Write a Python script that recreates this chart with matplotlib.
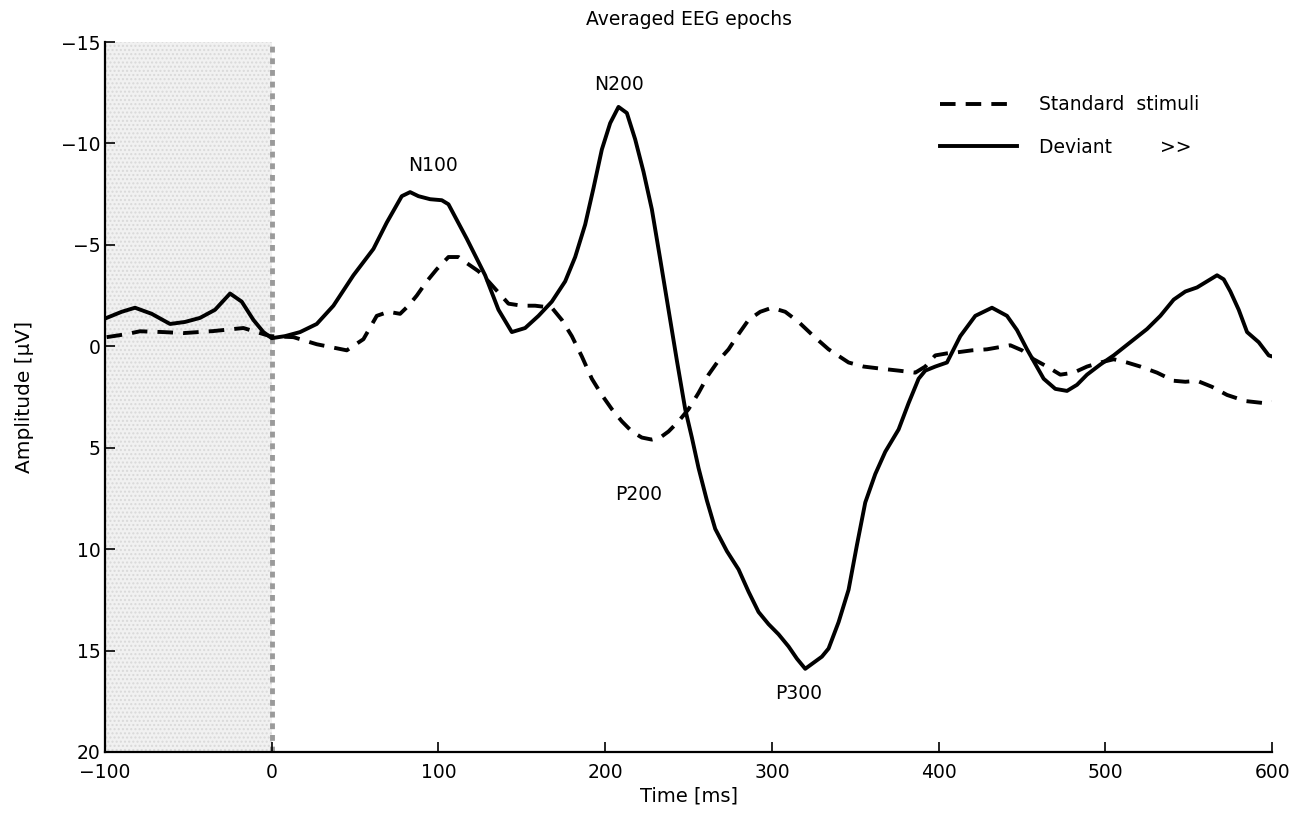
import matplotlib

matplotlib.use("Agg")
import matplotlib.pyplot as plt

plt.rcParams["font.family"] = ["DejaVu Sans"]

# Deviant (solid) trace, time in ms and amplitude in uV
deviant_t = [-99, -90, -82, -72, -61, -52, -43, -34, -25, -18, -11, -5, 0, 8, 17, 27, 37, 49, 61, 69, 78, 83,
             88, 95, 102, 106, 117, 128, 136, 144, 152, 160, 168, 176, 182, 188, 193, 198, 203, 208, 213, 218,
             223, 228, 233, 238, 243, 248, 252, 256, 261, 266, 273, 280, 286, 292, 298, 304, 310, 315, 320,
             325, 330, 334, 340, 346, 351, 356, 362, 368, 376, 382, 388, 392, 398, 405, 413, 422, 432, 441,
             447, 453, 463, 470, 477, 483, 489, 497, 505, 515, 525, 533, 541, 548, 555, 561, 567, 571, 575,
             580, 585, 592, 598, 600]
deviant_v = [-1.4, -1.7, -1.9, -1.6, -1.1, -1.2, -1.4, -1.8, -2.6, -2.2, -1.3, -0.7, -0.4, -0.5, -0.7, -1.1,
             -2.0, -3.5, -4.8, -6.1, -7.4, -7.6, -7.4, -7.25, -7.2, -7.0, -5.3, -3.5, -1.8, -0.7, -0.9, -1.5,
             -2.2, -3.2, -4.4, -6.0, -7.8, -9.7, -11.0, -11.8, -11.5, -10.2, -8.6, -6.75, -4.3, -1.8, 0.7, 3.1,
             4.5, 6.0, 7.6, 9.0, 10.1, 11.0, 12.1, 13.1, 13.7, 14.2, 14.8, 15.4, 15.9, 15.6, 15.3, 14.9, 13.6,
             12.0, 9.8, 7.7, 6.3, 5.2, 4.1, 2.8, 1.6, 1.2, 1.0, 0.8, -0.5, -1.5, -1.9, -1.5, -0.8, 0.15, 1.6,
             2.1, 2.2, 1.9, 1.4, 0.9, 0.45, -0.2, -0.85, -1.5, -2.3, -2.7, -2.9, -3.2, -3.5, -3.3, -2.7, -1.8,
             -0.7, -0.2, 0.45, 0.5]

# Standard stimuli (dashed) trace
standard_t = [-99, -87, -79, -65, -53, -35, -17, -1, 13, 27, 45, 55, 63, 70, 77, 82, 87, 93, 99, 106, 112,
              117, 124, 130, 142, 150, 158, 168, 174, 180, 186, 192, 198, 204, 210, 216, 222, 228, 233, 238,
              244, 250, 256, 262, 268, 274, 280, 286, 293, 300, 308, 316, 325, 334, 346, 355, 365, 376, 386,
              392, 398, 405, 411, 420, 429, 443, 450, 457, 465, 473, 481, 489, 497, 505, 513, 521, 531, 541,
              548, 555, 564, 573, 584, 595, 600]
standard_v = [-0.45, -0.6, -0.74, -0.7, -0.65, -0.75, -0.9, -0.5, -0.45, -0.1, 0.2, -0.35, -1.5, -1.7, -1.6,
              -2.0, -2.5, -3.2, -3.8, -4.4, -4.4, -4.1, -3.7, -3.2, -2.1, -2.0, -2.0, -1.9, -1.3, -0.5, 0.5,
              1.6, 2.4, 3.1, 3.7, 4.2, 4.5, 4.6, 4.5, 4.2, 3.7, 3.1, 2.3, 1.4, 0.7, 0.15, -0.6, -1.3, -1.7,
              -1.9, -1.7, -1.2, -0.5, 0.15, 0.8, 1.0, 1.1, 1.2, 1.3, 1.0, 0.45, 0.35, 0.3, 0.2, 0.15, -0.05,
              0.2, 0.64, 1.0, 1.4, 1.3, 1.0, 0.8, 0.64, 0.8, 1.0, 1.3, 1.7, 1.75, 1.7, 2.0, 2.4, 2.7, 2.8, 2.75]

peak_labels = ["N100", "N200", "P200", "P300"]
peak_t = [97, 208, 220, 316]
peak_v = [-8.9, -12.9, 7.3, 17.1]

fig = plt.figure(figsize=(13.11, 8.14), dpi=100)
ax = fig.add_axes([0.0801, 0.0762, 0.8902, 0.8722])

# baseline period shading and stimulus onset
ax.axvspan(-100, 0, facecolor="#f1f1f1", edgecolor="#d9d9d9", hatch="....", linewidth=0, zorder=0)
ax.axvline(0, color="#9a9a9a", linestyle=(0, (1.2, 1.2)), linewidth=3.5, zorder=1)

ax.plot(standard_t, standard_v, color="black", linewidth=2.8, dashes=(4, 2.6),
        label="Standard  stimuli", zorder=3)
ax.plot(deviant_t, deviant_v, color="black", linewidth=2.8, label="Deviant        >>", zorder=3)

for label, t, v in zip(peak_labels, peak_t, peak_v):
    ax.text(t, v, label, ha="center", va="center", fontsize=13.5)

ax.set_xlim(-100, 600)
ax.set_ylim(20, -15)
ax.set_xticks(range(-100, 601, 100))
ax.set_yticks(range(-15, 21, 5))
ax.tick_params(direction="in", length=7, width=1.2, labelsize=13.5, pad=3)
ax.tick_params(axis="x", pad=8)
ax.spines["top"].set_visible(False)
ax.spines["right"].set_visible(False)
ax.spines["left"].set_linewidth(1.6)
ax.spines["bottom"].set_linewidth(1.6)

ax.set_title("Averaged EEG epochs", fontsize=13.5, pad=12)
ax.set_xlabel("Time [ms]", fontsize=14, labelpad=3)
ax.set_ylabel("Amplitude [µV]", fontsize=14.5, labelpad=20)

ax.legend(loc="upper left", bbox_to_anchor=(0.7155, 0.925), frameon=False, fontsize=13.5,
          handlelength=4.1, handletextpad=1.2, labelspacing=1.25, borderpad=0, borderaxespad=0)

fig.savefig("out.png", dpi=100)
